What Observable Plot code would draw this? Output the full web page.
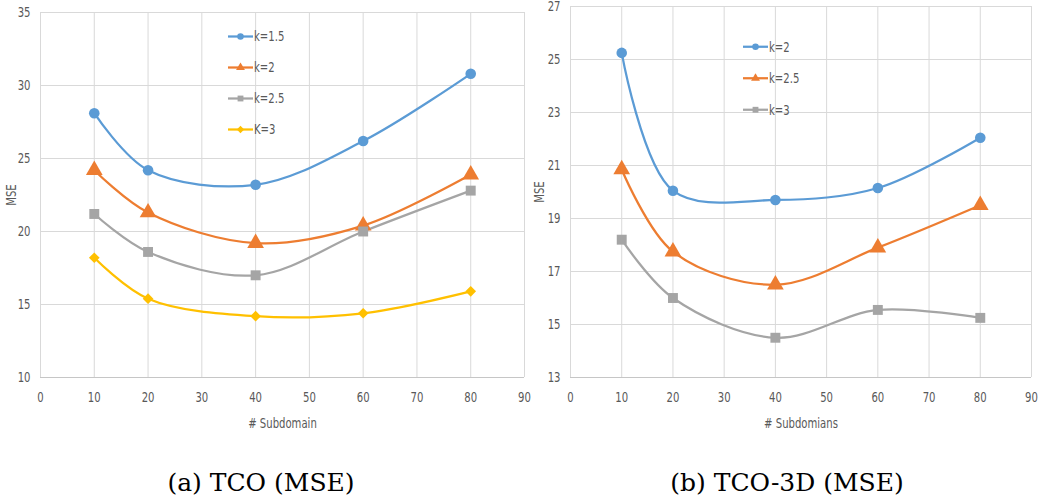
<!DOCTYPE html>
<html><head><meta charset="utf-8">
<script src="https://cdn.jsdelivr.net/npm/d3@7"></script>
<script src="https://cdn.jsdelivr.net/npm/@observablehq/plot@0.6"></script>
<style>
html,body{margin:0;padding:0;background:#fff;}
#root{position:relative;width:1040px;height:501px;overflow:hidden;background:#fff;}
.panel{position:absolute;top:0;}
.legend{position:absolute;overflow:visible;}
.caption{position:absolute;width:400px;text-align:center;font-family:'DejaVu Serif','Liberation Serif',serif;font-size:25px;line-height:26px;color:#000;}
</style></head><body><div id="root"></div>
<script>
// ---- data ----
const subdomains = [10, 20, 40, 60, 80];
const xTicks = [0, 10, 20, 30, 40, 50, 60, 70, 80, 90];

// (a) TCO (MSE)
const tcoSeries = ["k=1.5", "k=2", "k=2.5", "K=3"];
const tcoK15 = [28.1, 24.2, 23.2, 26.2, 30.8];
const tcoK2  = [24.2, 21.3, 19.2, 20.4, 23.9];
const tcoK25 = [21.2, 18.6, 17.0, 20.0, 22.8];
const tcoK3  = [18.2, 15.4, 14.2, 14.4, 15.9];
const tcoYTicks = [10, 15, 20, 25, 30, 35];

// (b) TCO-3D (MSE)
const tco3dSeries = ["k=2", "k=2.5", "k=3"];
const tco3dK2  = [25.25, 20.05, 19.7, 20.15, 22.05];
const tco3dK25 = [20.85, 17.75, 16.5, 17.9, 19.5];
const tco3dK3  = [18.2, 16.0, 14.5, 15.55, 15.25];
const tco3dYTicks = [13, 15, 17, 19, 21, 23, 25, 27];

const captions = ["(a) TCO (MSE)", "(b) TCO-3D (MSE)"];
const xLabels = ["# Subdomain", "# Subdomians"];
const yLabel = "MSE";

// ---- styles ----
const colors = ["#5B9BD5", "#ED7D31", "#A5A5A5", "#FFC000"];
const symbolNames = ["circle", "triangle", "square", "diamond2"];
const symbolRadius = {circle: 5.3, triangle: 6.2, square: 5.6, diamond2: 4.8};
const d3Symbols = {circle: d3.symbolCircle, triangle: d3.symbolTriangle, square: d3.symbolSquare, diamond2: d3.symbolDiamond2};
const tickFont = "'DejaVu Sans Condensed','Liberation Sans',sans-serif";
const condenseK = 0.8;

function rowsFrom(series, values) {
  const rows = [];
  series.forEach((s, i) => values[i].forEach((v, j) => rows.push({series: s, x: subdomains[j], y: v, sym: symbolNames[i]})));
  return rows;
}

function makePanel({series, values, yTicks, xLabel, width, marginLeft, marginRight, marginTop, yLabelOffset}) {
  const rows = rowsFrom(series, values);
  const ymin = yTicks[0], ymax = yTicks[yTicks.length - 1];
  const dotMarks = symbolNames.slice(0, series.length).map(sym =>
    Plot.dot(rows.filter(d => d.sym === sym), {x: "x", y: "y", fill: "series", symbol: "series", r: symbolRadius[sym], stroke: "none"})
  );
  return Plot.plot({
    width, height: 440,
    marginLeft, marginRight, marginTop, marginBottom: 63,
    style: {fontFamily: tickFont, fontSize: "14px", color: "#595959", background: "transparent", overflow: "visible"},
    x: {domain: [0, 90]},
    y: {domain: [ymin, ymax]},
    color: {domain: series, range: colors.slice(0, series.length)},
    symbol: {domain: series, range: symbolNames.slice(0, series.length)},
    marks: [
      Plot.gridX(xTicks, {stroke: "#d9d9d9", strokeOpacity: 1}),
      Plot.gridY(yTicks, {stroke: "#d9d9d9", strokeOpacity: 1}),
      Plot.ruleY([ymin], {stroke: "#c6c6c6"}),
      Plot.axisX(xTicks, {tickSize: 0, tickPadding: 15, label: xLabel, labelAnchor: "center", labelArrow: false, labelOffset: 50}),
      Plot.axisY(yTicks, {tickSize: 0, tickPadding: 10, label: yLabel, labelAnchor: "center", labelArrow: false, labelOffset: yLabelOffset}),
      Plot.line(rows, {x: "x", y: "y", z: "series", stroke: "series", curve: "catmull-rom", strokeWidth: 2.25}),
      ...dotMarks
    ]
  });
}

function makeLegend(series, left, top, gap) {
  const w = 80, h = gap * series.length + 10;
  const svg = d3.create("svg").attr("width", w).attr("height", h).attr("class", "legend")
    .style("left", left + "px").style("top", top + "px");
  series.forEach((s, i) => {
    const cy = 5 + gap * i + gap / 2;
    const g = svg.append("g").attr("transform", `translate(0,${cy})`);
    g.append("line").attr("x1", 0).attr("x2", 25).attr("y1", 0).attr("y2", 0)
      .attr("stroke", colors[i]).attr("stroke-width", 2.25);
    g.append("path").attr("transform", "translate(12.5,0)")
      .attr("d", d3.symbol(d3Symbols[symbolNames[i]], 34)()).attr("fill", colors[i]);
    g.append("text").attr("x", 26).attr("y", 0).attr("dy", "0.35em")
      .attr("font-family", tickFont).attr("font-size", 14).attr("fill", "#595959").text(s);
  });
  return svg.node();
}

function condense(node) {
  node.querySelectorAll("text").forEach(t => {
    const L = t.getComputedTextLength();
    if (L > 0) {
      t.setAttribute("textLength", (L * condenseK).toFixed(2));
      t.setAttribute("lengthAdjust", "spacingAndGlyphs");
    }
  });
}

const root = document.getElementById("root");

const left = makePanel({series: tcoSeries, values: [tcoK15, tcoK2, tcoK25, tcoK3], yTicks: tcoYTicks,
  xLabel: xLabels[0], width: 526, marginLeft: 40, marginRight: 2, marginTop: 12, yLabelOffset: 34});
left.classList.add("panel"); left.style.left = "0px";
root.appendChild(left);

const right = makePanel({series: tco3dSeries, values: [tco3dK2, tco3dK25, tco3dK3], yTicks: tco3dYTicks,
  xLabel: xLabels[1], width: 514, marginLeft: 44, marginRight: 9, marginTop: 6, yLabelOffset: 36});
right.classList.add("panel"); right.style.left = "526px";
root.appendChild(right);

const legA = makeLegend(tcoSeries, 228, 16, 31);
const legB = makeLegend(tco3dSeries, 743, 26, 31.5);
root.appendChild(legA);
root.appendChild(legB);

[left, right, legA, legB].forEach(condense);

[[captions[0], 261], [captions[1], 787]].forEach(([t, cx]) => {
  const d = document.createElement("div");
  d.className = "caption"; d.textContent = t;
  d.style.left = (cx - 200) + "px"; d.style.top = "470px";
  root.appendChild(d);
});
</script></body></html>
